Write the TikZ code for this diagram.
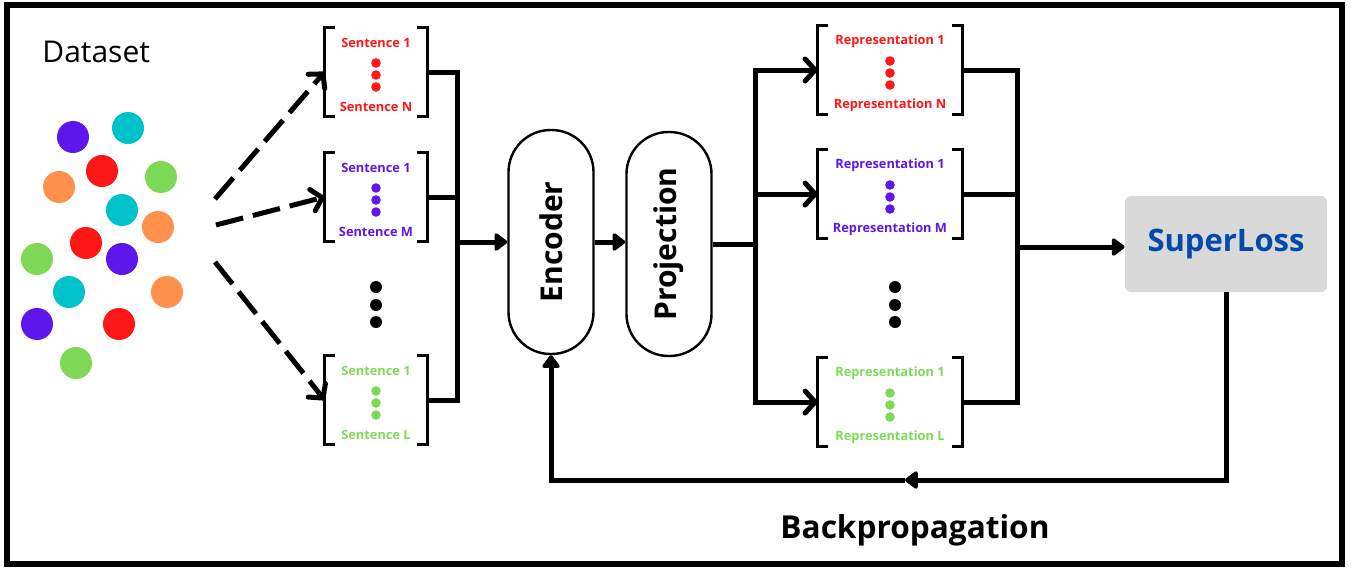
\documentclass[tikz,border=0pt]{standalone}
\usepackage{fontspec}
\setmainfont{Open Sans}
\usepackage{tikz}
\usetikzlibrary{arrows.meta}

\definecolor{dotred}{HTML}{FF1616}
\definecolor{dotpurple}{HTML}{5E17EB}
\definecolor{dotcyan}{HTML}{00C2CB}
\definecolor{dotorange}{HTML}{FF914D}
\definecolor{dotgreen}{HTML}{7ED957}
\definecolor{lossgray}{HTML}{D9D9D9}
\definecolor{lossblue}{HTML}{004AAD}

\tikzset{
  wire/.style={line width=2.5pt},
  feed/.style={wire, -{Triangle[length=7pt,width=10pt,round]}},
  fork/.style={wire, -{Straight Barb[length=5pt,width=11pt,round]}},
  scatter/.style={fork, dash pattern=on 14pt off 5pt},
  stage/.style={draw, line width=1.2pt, rounded corners=21pt, minimum width=42.5pt, minimum height=112pt, font=\bfseries\fontsize{15}{18}\selectfont},
  batch/.style={minimum width=51pt, minimum height=44pt},
  embed/.style={minimum width=72pt, minimum height=44pt},
  brack/.style={line width=1.2pt},
  item/.style={font=\bfseries\fontsize{6.4}{7.5}\selectfont, inner sep=0pt},
}

\begin{document}
\begin{tikzpicture}[x=0.5pt, y=-0.5pt]
\useasboundingbox (0,0) rectangle (1360,568);
\draw[line width=2.6pt] (7,5) rectangle (1342,564);

\node[font=\fontsize{15}{18}\selectfont, anchor=west, inner sep=0pt] (title) at (42,52) {Dataset};
\foreach \x/\y/\c in {73/137/dotpurple, 128/128/dotcyan, 102/171/dotred, 59/187/dotorange, 161/177/dotgreen, 122/210/dotcyan, 158/227/dotorange, 86/243/dotred, 37/259/dotgreen, 122/259/dotpurple, 69/292/dotcyan, 167/292/dotorange, 37/324/dotpurple, 119/324/dotred, 76/363/dotgreen}
  \fill[\c] (\x,\y) circle (8pt);

\node[batch] (s1) at (376,72) {};
\node[batch] (s2) at (376,197) {};
\node[batch] (s3) at (376,400) {};
\node[embed] (r1) at (890,70) {};
\node[embed] (r2) at (890,194) {};
\node[embed] (r3) at (890,402) {};

\foreach \b/\c/\t/\l in {s1/dotred/Sentence/N, s2/dotpurple/Sentence/M, s3/dotgreen/Sentence/L, r1/dotred/Representation/N, r2/dotpurple/Representation/M, r3/dotgreen/Representation/L} {
  \draw[brack] ([xshift=5pt]\b.north west) -- (\b.north west) -- (\b.south west) -- ([xshift=5pt]\b.south west);
  \draw[brack] ([xshift=-5pt]\b.north east) -- (\b.north east) -- (\b.south east) -- ([xshift=-5pt]\b.south east);
  \node[item, text=\c] at ([yshift=14.5pt]\b.center) {\t{} 1};
  \node[item, text=\c] at ([yshift=-17.5pt]\b.center) {\t{} \l};
  \foreach \d in {4.5pt,-1.5pt,-7.5pt}
    \fill[\c] ([yshift=\d]\b.center) circle (2.4pt);
}
\foreach \y in {287,305,322} {
  \fill (376,\y) circle (3pt);
  \fill (895,\y) circle (3pt);
}

\node[stage] (enc) at (551,242) {\rotatebox{90}{Encoder}};
\node[stage] (proj) at (669,244) {\rotatebox{90}{Projection}};
\node[fill=lossgray, rounded corners=3pt, minimum width=101pt, minimum height=48pt, text=lossblue, font=\bfseries\fontsize{15.5}{18}\selectfont] (loss) at (1226,244) {SuperLoss};
\node[font=\bfseries\fontsize{15.8}{18}\selectfont] (bp) at (915,530) {Backpropagation};

\coordinate (d1) at (215,199);
\coordinate (d2) at (216,225);
\coordinate (d3) at (215,262);
\draw[scatter] (d1) -- (s1.west);
\draw[scatter] (d2) -- (s2.west);
\draw[scatter] (d3) -- (s3.west);

\coordinate (sbus) at (457,242);
\foreach \b in {s1,s2,s3}
  \draw[wire] (\b.east) -| (sbus);
\draw[feed] (sbus) -- (sbus -| enc.west);
\draw[feed] (enc.east) -- (enc.east -| proj.west);

\coordinate (rbus) at (755,244);
\draw[wire] (proj.east) -- (rbus);
\foreach \b in {r1,r2,r3}
  \draw[fork] (rbus) |- (\b.west);

\coordinate (lbus) at (1017,247);
\foreach \b in {r1,r2,r3}
  \draw[wire] (\b.east) -| (lbus);
\draw[feed] (lbus) -- (lbus -| loss.west);

\coordinate (bmid) at (905,480);
\draw[feed] (loss.south) |- (bmid);
\draw[feed] (bmid) -| (enc.south);
\end{tikzpicture}
\end{document}
